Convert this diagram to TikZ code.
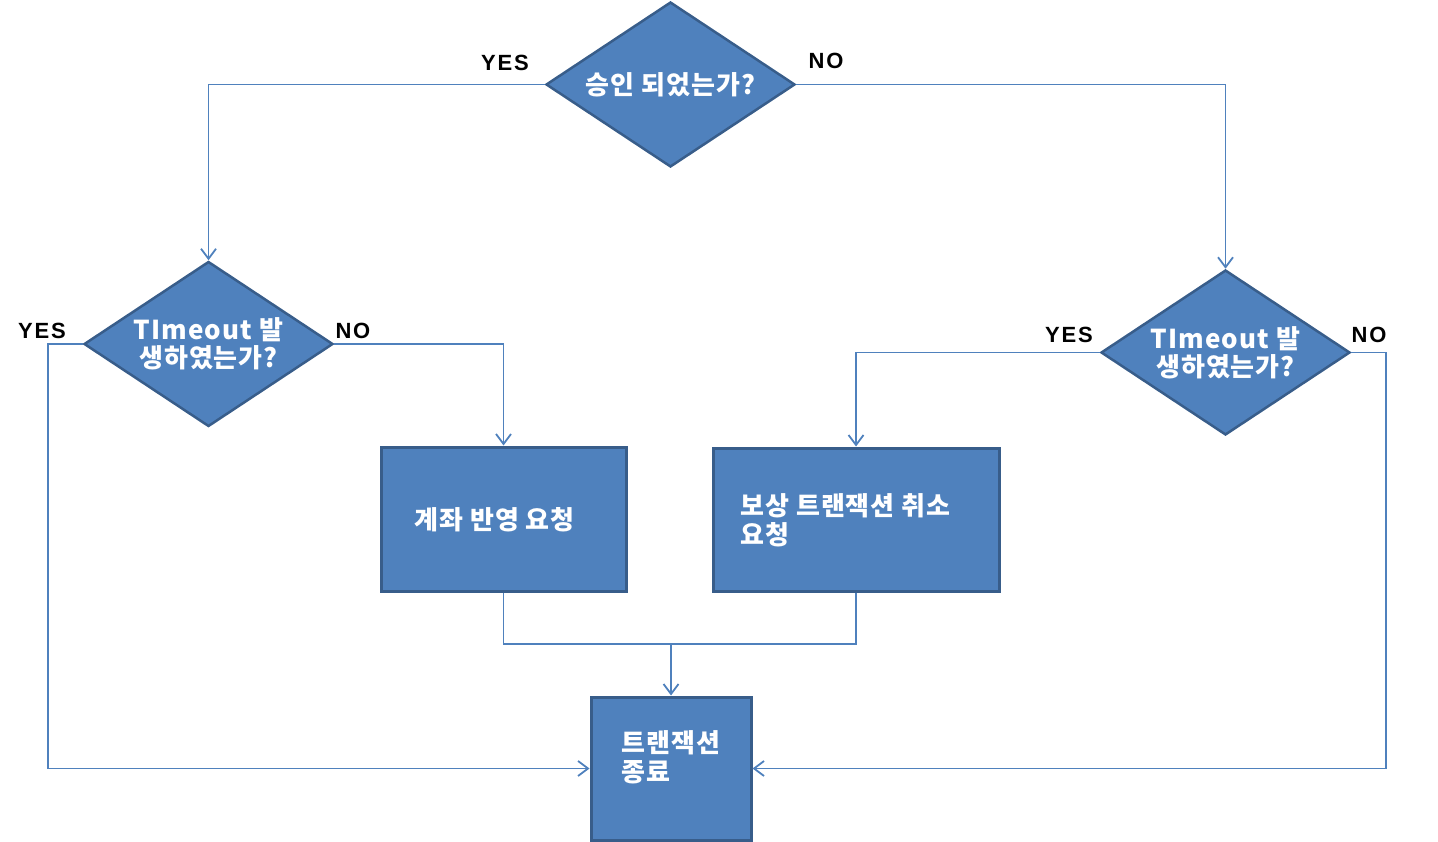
\documentclass[tikz,border=0pt]{standalone}
\usepackage{fontspec}
\usetikzlibrary{shapes.geometric,arrows.meta,calc}
\newfontfamily\kr[LetterSpace=4]{Noto Sans CJK KR}
\newfontfamily\lab[LetterSpace=8]{Liberation Sans}
\definecolor{fillblue}{HTML}{4F81BD}
\definecolor{edgeblue}{HTML}{385D8A}
\tikzset{
  dec/.style={diamond, fill=fillblue, draw=edgeblue, line width=2.5pt, shape aspect=1.5,
    minimum width=249pt, minimum height=165pt, inner sep=0pt, text=white,
    font=\kr\bfseries\fontsize{26pt}{28pt}\selectfont, align=center},
  procbox/.style={rectangle, fill=fillblue, draw=edgeblue, line width=3pt, inner sep=0pt},
  boxtext/.style={text=white, font=\kr\bfseries\fontsize{26pt}{29pt}\selectfont, align=left, inner sep=0pt},
  conn/.style={draw=fillblue, line width=1.8pt},
  arr/.style={conn, -{Straight Barb[length=10pt,width=15pt,line width=1.8pt]}},
  yn/.style={font=\lab\bfseries\fontsize{22pt}{22pt}\selectfont, text=black, inner sep=0pt}
}
\begin{document}
\begin{tikzpicture}[x=1pt,y=-1pt]
\useasboundingbox (0,0) rectangle (1438,842);
% nodes
\node[dec] (d0) at (670.5,84.5) {승인 되었는가?};
\node[dec] (d1) at (208.5,344) {TImeout 발\\생하였는가?};
\node[dec] (d2) at (1225.5,352.5) {TImeout 발\\생하였는가?};
\node[procbox, minimum width=245pt, minimum height=144pt] (b1) at (503.5,519) {};
\node[procbox, minimum width=286pt, minimum height=143pt] (b2) at (856,519.5) {};
\node[procbox, minimum width=160pt, minimum height=143pt] (b3) at (671,768.5) {};
\node[boxtext, anchor=west] (t1) at (414,520) {계좌 반영 요청};
\node[boxtext, anchor=west] (t2) at (740,520) {보상 트랜잭션 취소\\요청};
\node[boxtext, anchor=west] (t3) at (621,757) {트랜잭션\\종료};
% labels
\node[yn] (l1) at (505,63) {YES};
\node[yn] (l2) at (826,61) {NO};
\node[yn] (l3) at (42,331) {YES};
\node[yn] (l4) at (353,331) {NO};
\node[yn] (l5) at (1069,335) {YES};
\node[yn] (l6) at (1369,335) {NO};
% connectors
\coordinate (j) at (671,644);
\draw[arr] (d0.west) -| (d1.north);
\draw[arr] (d0.east) -| (d2.north);
\draw[arr] (d1.west) -- ++(-35,0) |- (b3.west);
\draw[arr] (d1.east) -| (b1.north);
\draw[arr] (d2.west) -| (b2.north);
\draw[arr] (d2.east) -- ++(35,0) |- (b3.east);
\draw[conn] (b1.south) |- (j);
\draw[conn] (b2.south) |- (j);
\draw[arr] (j) -- (b3.north);
\end{tikzpicture}
\end{document}
